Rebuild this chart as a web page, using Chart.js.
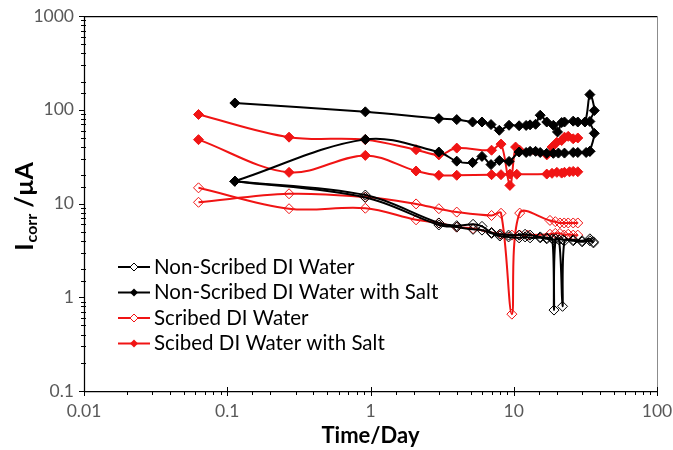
<!DOCTYPE html>
<html>
<head>
<meta charset="utf-8">
<script src="https://cdn.jsdelivr.net/npm/chart.js@4"></script>
<style>
  html, body { margin: 0; padding: 0; background: #fff; }
</style>
</head>
<body>
<canvas id="chart" width="673" height="450"></canvas>
<script>
const xTickLabels = ['0.01', '0.1', '1', '10', '100']
const yTickLabels = ['0.1', '1', '10', '100', '1000']
const seriesNames = ['Non-Scribed DI Water', 'Non-Scribed DI Water with Salt', 'Scribed DI Water', 'Scibed DI Water with Salt']

// non-scribed panels in DI water (two samples)
const nsWaterDaysA = [0.113, 0.92, 3, 4, 5.2, 6, 7, 8, 9.2, 10.9, 12, 13, 15.3, 17, 18.6, 19.1, 19.6, 22, 26, 30, 34, 36]
const nsWaterIA = [17.3, 12.3, 6.2, 5.8, 6.0, 5.7, 4.9, 4.7, 4.6, 4.6, 4.7, 4.6, 4.4, 4.3, 4.2, 0.73, 4.2, 4.1, 4.1, 4.0, 4.2, 3.8]
const nsWaterDaysB = [0.113, 0.92, 3, 4, 5.2, 6, 7, 8, 9.2, 10.9, 12, 13, 15.3, 17, 19, 20.7, 21.9, 22.6, 26, 30, 34, 36]
const nsWaterIB = [17.3, 11.6, 5.9, 5.6, 5.3, 5.2, 4.8, 4.5, 4.4, 4.3, 4.4, 4.3, 4.3, 4.2, 4.1, 4.1, 0.8, 4.0, 4.0, 3.9, 4.0, 3.9]

// non-scribed panels in salt water
const nsSaltDaysA = [0.113, 0.92, 3, 4, 5.16, 6, 6.94, 7.93, 9.27, 10.9, 12.2, 13, 14.2, 15.3, 17, 18.9, 20.2, 21.6, 22.6, 26, 28, 31.4, 34, 36.5, 34, 36.5, 34]
const nsSaltIA = [118, 95, 80.5, 78.5, 74, 74, 69.5, 60.4, 68.3, 67.5, 68, 69, 70, 87.4, 74, 68.3, 58, 73, 74, 75.6, 74, 74, 145, 98, 75, 56, 36]
const nsSaltDaysB = [0.113, 0.92, 3, 4, 5.16, 6, 6.94, 7.93, 9.27, 10.9, 12.2, 13, 14.2, 15.3, 17, 18.9, 20.5, 22.6, 26, 28, 32, 34]
const nsSaltIB = [17.3, 48.3, 35.4, 28.3, 27.3, 31.8, 26, 28.8, 28.1, 35.4, 35, 36, 36, 35, 34.3, 34.3, 34.5, 34.5, 35, 35, 35, 36]

// scribed panels in DI water
const sWaterDaysA = [0.063, 0.27, 0.92, 2.08, 3, 4, 7, 8.15, 9.7, 11, 17.9, 19.5, 21, 22.5, 24, 26, 28]
const sWaterIA = [10.3, 12.7, 11.7, 9.9, 8.8, 8.1, 7.45, 7.87, 0.66, 7.9, 6.6, 6.4, 6.2, 6.2, 6.2, 6.2, 6.2]
const sWaterDaysB = [0.063, 0.27, 0.92, 2.08, 3, 4, 5.2, 7, 8.15, 9.7, 11, 12.5, 17.9, 19.5, 21, 22.5, 24, 26, 28]
const sWaterIB = [14.7, 8.8, 8.9, 6.7, 6.2, 5.6, 5.4, 4.9, 4.7, 4.6, 4.6, 4.6, 4.7, 4.8, 4.8, 4.6, 4.7, 4.6, 4.6]

// scribed panels in salt water
const sSaltDaysA = [0.063, 0.27, 0.92, 2.08, 3, 4, 7, 8.15, 9.4, 10.3, 11, 17, 18.5, 20, 21.6, 22.6, 24, 26, 28]
const sSaltIA = [89, 51, 48, 37.5, 33, 39, 37, 43, 15.6, 40, 37, 33, 40, 45, 47, 51, 52, 49, 50]
const sSaltDaysB = [0.063, 0.27, 0.92, 2.08, 3, 4, 7, 8.15, 9.4, 10.5, 17, 18.5, 20, 21.6, 22.6, 24.5, 26, 28]
const sSaltIB = [48, 21.5, 32.6, 22.2, 20, 20, 20.3, 20.3, 20.6, 20.5, 20.6, 21, 21.5, 21.1, 21.5, 21.8, 22, 21.8]

const BLACK = '#000000'
const RED = '#f01414'
const FONT = 'Lato'

function pairs(days, values) {
    return days.map((d, i) => ({ x: d, y: values[i] }))
}

function series(name, days, values, color, filled, inLegend) {
    return {
        label: name,
        data: pairs(days, values),
        borderColor: color,
        backgroundColor: filled ? color : 'rgba(0,0,0,0)',
        borderWidth: 2,
        tension: 0.35,
        pointStyle: 'rectRot',
        pointRadius: 5,
        pointBorderWidth: 1,
        pointBorderColor: color,
        pointBackgroundColor: filled ? color : 'rgba(0,0,0,0)',
        inLegend: inLegend,
        filled: filled
    }
}

const datasets = [
    series(seriesNames[0], nsWaterDaysA, nsWaterIA, BLACK, false, true),
    series(seriesNames[0], nsWaterDaysB, nsWaterIB, BLACK, false, false),
    series(seriesNames[1], nsSaltDaysA, nsSaltIA, BLACK, true, true),
    series(seriesNames[1], nsSaltDaysB, nsSaltIB, BLACK, true, false),
    series(seriesNames[2], sWaterDaysA, sWaterIA, RED, false, true),
    series(seriesNames[2], sWaterDaysB, sWaterIB, RED, false, false),
    series(seriesNames[3], sSaltDaysA, sSaltIA, RED, true, true),
    series(seriesNames[3], sSaltDaysB, sSaltIB, RED, true, false)
]

function labelFor(value, labels) {
    const hit = labels.find(l => Math.abs(Math.log10(Number(l)) - Math.log10(value)) < 1e-6)
    return hit === undefined ? '' : hit
}

function isDecade(value) {
    const e = Math.log10(value)
    return Math.abs(e - Math.round(e)) < 1e-6
}

// axis lines, box and tick marks
const frame = {
    id: 'frame',
    afterDraw(chart) {
        const c = chart.ctx
        const a = chart.chartArea
        const x = chart.scales.x
        const y = chart.scales.y
        c.save()
        c.lineWidth = 1
        c.strokeStyle = '#8c8c8c'
        c.beginPath()
        c.moveTo(a.right + 0.5, a.top)
        c.lineTo(a.right + 0.5, a.bottom)
        c.stroke()

        c.strokeStyle = '#000'
        c.lineWidth = 1.25
        c.beginPath()
        c.moveTo(a.left, a.top + 0.5)
        c.lineTo(a.right, a.top + 0.5)
        c.moveTo(a.left + 0.5, a.top)
        c.lineTo(a.left + 0.5, a.bottom)
        c.moveTo(a.left, a.bottom + 0.5)
        c.lineTo(a.right + 1, a.bottom + 0.5)
        c.stroke()

        c.lineWidth = 1
        x.ticks.forEach(t => {
            const px = Math.round(x.getPixelForValue(t.value)) + 0.5
            c.beginPath()
            if (isDecade(t.value)) {
                c.moveTo(px, a.bottom - 4)
                c.lineTo(px, a.bottom + 5)
            } else {
                c.moveTo(px, a.bottom)
                c.lineTo(px, a.bottom + 4)
            }
            c.stroke()
        })
        y.ticks.forEach(t => {
            const py = Math.round(y.getPixelForValue(t.value)) + 0.5
            c.beginPath()
            if (isDecade(t.value)) {
                c.moveTo(a.left - 5, py)
                c.lineTo(a.left + 1, py)
            } else {
                c.moveTo(a.left - 3, py)
                c.lineTo(a.left + 2, py)
            }
            c.stroke()
        })
        c.restore()
    }
}

// legend inside the plot, one entry per condition
const insetLegend = {
    id: 'insetLegend',
    afterDraw(chart) {
        const c = chart.ctx
        const entries = chart.data.datasets.filter(d => d.inLegend)
        c.save()
        c.font = '20.5px ' + FONT
        c.textBaseline = 'middle'
        c.textAlign = 'left'
        entries.forEach((d, i) => {
            const yy = 267 + i * 25.5
            c.strokeStyle = d.borderColor
            c.lineWidth = 2
            c.beginPath()
            c.moveTo(118, yy)
            c.lineTo(150, yy)
            c.stroke()
            c.beginPath()
            c.moveTo(134, yy - 4)
            c.lineTo(138, yy)
            c.lineTo(134, yy + 4)
            c.lineTo(130, yy)
            c.closePath()
            if (d.filled) {
                c.fillStyle = d.borderColor
                c.fill()
            } else {
                c.fillStyle = '#fff'
                c.fill()
                c.lineWidth = 1
                c.stroke()
            }
            c.fillStyle = '#000'
            c.fillText(d.label, 154, yy)
        })
        c.restore()
    }
}

// axis titles, the y title carries a subscript
const axisTitles = {
    id: 'axisTitles',
    afterDraw(chart) {
        const c = chart.ctx
        const a = chart.chartArea
        c.save()
        c.fillStyle = '#000'
        c.font = 'bold 22px ' + FONT
        c.textAlign = 'center'
        c.textBaseline = 'middle'
        c.fillText('Time/Day', (a.left + a.right) / 2, 436)

        const big = 'bold 25px ' + FONT
        const small = 'bold 16px ' + FONT
        c.font = big
        const wI = c.measureText('I').width
        const wRest = c.measureText(' /µA').width
        c.font = small
        const wSub = c.measureText('corr').width
        let u = -(wI + wSub + wRest) / 2
        c.translate(24, 207)
        c.rotate(-Math.PI / 2)
        c.textAlign = 'left'
        c.textBaseline = 'alphabetic'
        c.font = big
        c.fillText('I', u, 9)
        u += wI + 1
        c.font = small
        c.fillText('corr', u, 13)
        u += wSub
        c.font = big
        c.fillText(' /µA', u, 9)
        c.restore()
    }
}

const tickFont = { family: FONT, size: 17.5 }

new Chart(document.getElementById('chart'), {
    type: 'line',
    data: { datasets: datasets },
    options: {
        responsive: false,
        animation: false,
        devicePixelRatio: 1,
        layout: { padding: { top: 16, right: 16, left: 0, bottom: 0 } },
        plugins: {
            legend: { display: false },
            tooltip: { enabled: false }
        },
        scales: {
            x: {
                type: 'logarithmic',
                min: 0.01,
                max: 100,
                grid: { display: false, drawTicks: false },
                border: { display: false },
                ticks: {
                    autoSkip: false,
                    maxRotation: 0,
                    padding: 10,
                    color: '#595959',
                    font: tickFont,
                    callback: v => labelFor(v, xTickLabels)
                },
                afterFit(scale) {
                    scale.height = 59
                    scale.paddingLeft = 0
                    scale.paddingRight = 0
                }
            },
            y: {
                type: 'logarithmic',
                min: 0.1,
                max: 1000,
                grid: { display: false, drawTicks: false },
                border: { display: false },
                ticks: {
                    autoSkip: false,
                    padding: 10,
                    color: '#595959',
                    font: tickFont,
                    callback: v => labelFor(v, yTickLabels)
                },
                afterFit(scale) {
                    scale.width = 84
                    scale.paddingTop = 0
                    scale.paddingBottom = 0
                }
            }
        }
    },
    plugins: [frame, insetLegend, axisTitles]
})
</script>
</body>
</html>
